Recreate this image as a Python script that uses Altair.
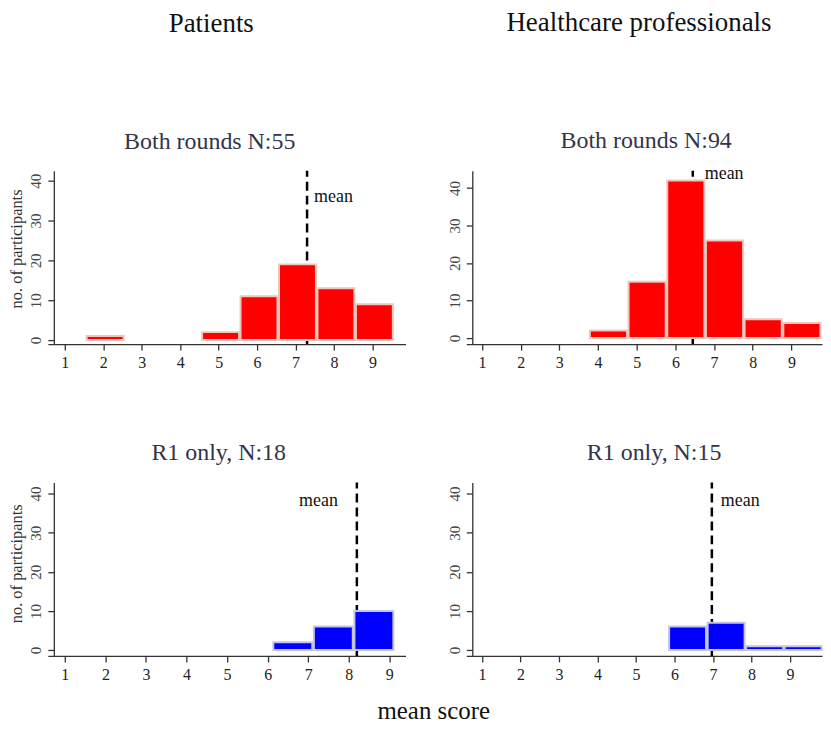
import altair as alt
import pandas as pd

# ---- data ----
x_ticks = [1, 2, 3, 4, 5, 6, 7, 8, 9]
y_ticks = [0, 10, 20, 30, 40]

# Patients, both rounds (N:55)
p_both_bin_lo = [1.57, 4.57, 5.57, 6.57, 7.57, 8.57]
p_both_counts = [1, 2, 11, 19, 13, 9]
p_both_mean = 7.3

# Healthcare professionals, both rounds (N:94)
h_both_bin_lo = [3.79, 4.79, 5.79, 6.79, 7.79, 8.79]
h_both_counts = [2, 15, 42, 26, 5, 4]
h_both_mean = 6.45

# Patients, R1 only (N:18)
p_r1_bin_lo = [6.14, 7.14, 8.14]
p_r1_counts = [2, 6, 10]
p_r1_mean = 8.2

# Healthcare professionals, R1 only (N:15)
h_r1_bin_lo = [5.86, 6.86, 7.86, 8.86]
h_r1_counts = [6, 7, 1, 1]
h_r1_mean = 6.97

BIN_W = 0.96
SERIF = "Liberation Serif"


def x_enc(field, dom):
    return alt.X(
        field,
        type="quantitative",
        scale=alt.Scale(domain=dom, nice=False, zero=False),
        axis=alt.Axis(
            values=x_ticks, title=None, grid=False, domainColor="#333333",
            domainWidth=1.3, tickColor="#333333", tickWidth=1.3, tickSize=6,
            labelFont=SERIF, labelFontSize=16, labelColor="#222222",
            labelPadding=5, labelFlush=False, labelOverlap=False,
        ),
    )


def y_enc(field, dom, ytitle, title_y):
    ax = dict(
        values=y_ticks, grid=False, domainColor="#333333", domainWidth=1.3,
        tickColor="#333333", tickWidth=1.3, tickSize=6, offset=-6,
        labelFont=SERIF, labelFontSize=15, labelColor="#444444",
        labelAngle=270, labelAlign="center", labelBaseline="bottom",
        labelPadding=4, labelFlush=False, labelOverlap=False,
    )
    if ytitle:
        ax.update(title=ytitle, titleFont=SERIF, titleFontSize=16.5,
                  titleFontWeight="normal", titleColor="#333333", titlePadding=4,
                  titleY=title_y)
    else:
        ax.update(title=None)
    return alt.Y(field, type="quantitative",
                 scale=alt.Scale(domain=dom, nice=False, zero=False),
                 axis=alt.Axis(**ax))


def panel(lo, counts, mean, fill, stroke, xdom, ydom, width, title, ytitle,
          title_y, m_dx, m_align, m_y, t_off, t_dx):
    df = pd.DataFrame({"lo": lo, "hi": [v + BIN_W for v in lo], "n": counts})
    mdf = pd.DataFrame({"m": [mean]})
    rule = alt.Chart(mdf).mark_rule(
        color="black", strokeWidth=2.5, strokeDash=[9, 5]
    ).encode(
        x=x_enc("m", xdom), y=alt.datum(ydom[0]), y2=alt.datum(ydom[1]),
    )
    bars = alt.Chart(df).mark_rect(
        fill=fill, stroke=stroke, strokeWidth=2
    ).encode(
        x=x_enc("lo", xdom), x2="hi",
        y=y_enc("n", ydom, ytitle, title_y), y2=alt.datum(0),
    )
    txt = alt.Chart(mdf).mark_text(
        text="mean", font=SERIF, fontSize=18, color="#111111",
        align=m_align, baseline="middle", dx=m_dx,
    ).encode(x=x_enc("m", xdom), y=alt.datum(m_y))
    return alt.layer(rule, bars, txt).properties(
        width=width, height=174,
        title=alt.TitleParams(title, font=SERIF, fontSize=24, fontWeight="normal",
                              color="#33334a", offset=t_off, dx=t_dx,
                              baseline="alphabetic"),
    )


RED, RED_S = "#ff0000", "#eec4bc"
BLUE, BLUE_S = "#0000ff", "#c4c4e4"

p1 = panel(p_both_bin_lo, p_both_counts, p_both_mean, RED, RED_S,
           [0.56, 9.86], [-1.0, 42.5], 359, "Both rounds N:55",
           "no. of participants", 78, 7, "left", 36, -3, -17)
p2 = panel(h_both_bin_lo, h_both_counts, h_both_mean, RED, RED_S,
           [0.596, 9.79], [-1.6, 44.6], 357, "Both rounds N:94",
           None, 0, 12, "left", 43.8, -7, 2)
p3 = panel(p_r1_bin_lo, p_r1_counts, p_r1_mean, BLUE, BLUE_S,
           [0.582, 9.40], [-1.5, 42.8], 359, "R1 only, N:18",
           "no. of participants", 81, -19, "right", 38, -3, -8)
p4 = panel(h_r1_bin_lo, h_r1_counts, h_r1_mean, BLUE, BLUE_S,
           [0.594, 9.83], [-1.5, 42.8], 357, "R1 only, N:15",
           None, 0, 9, "left", 38.2, -3, 10)

col_title = dict(font=SERIF, fontSize=27, fontWeight="normal", color="#111111",
                 offset=92, anchor="middle", dx=4)
left = alt.vconcat(p1, p3, spacing=70,
                   title=alt.TitleParams("Patients", **col_title))
right = alt.vconcat(p2, p4, spacing=70,
                    title=alt.TitleParams("Healthcare professionals", **col_title))

chart = alt.hconcat(
    left, right, spacing=41,
    title=alt.TitleParams("mean score", orient="bottom", font=SERIF, fontSize=25,
                          fontWeight="normal", color="#111111", offset=36,
                          anchor="middle", dx=18, baseline="alphabetic"),
).properties(
    padding={"left": 0, "top": 0, "right": 0, "bottom": 0},
).configure(background="white").configure_view(stroke=None)

chart.save("out.html", embed_options={"renderer": "svg", "actions": False})
